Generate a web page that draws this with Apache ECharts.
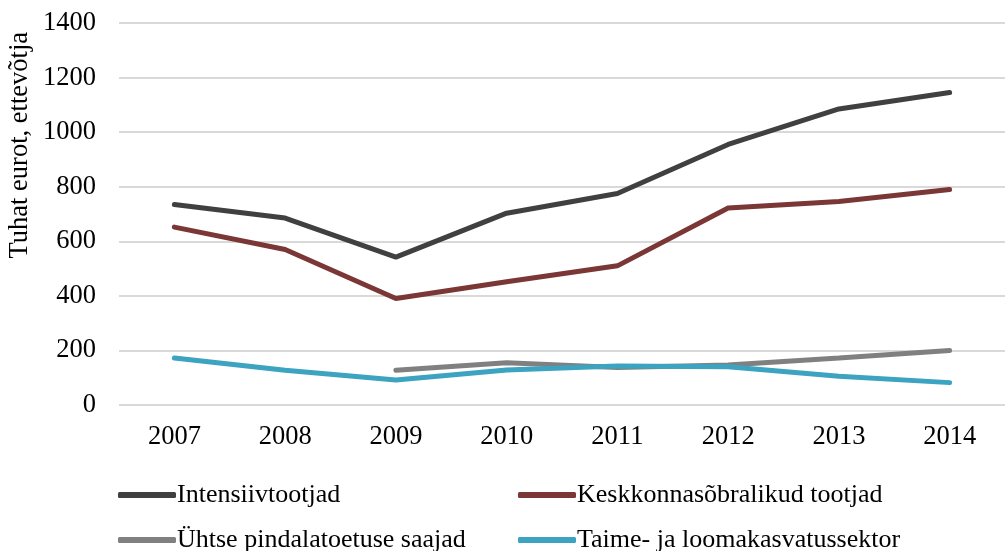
<!DOCTYPE html>
<html><head><meta charset="utf-8">
<script src="https://cdn.jsdelivr.net/npm/echarts@6/dist/echarts.min.js"></script>
<style>html,body{margin:0;padding:0;background:#fff}#c{width:1006px;height:551px}</style>
</head><body><div id="c"></div>
<script>
const years = ['2007','2008','2009','2010','2011','2012','2013','2014'];
const intensiiv = [735, 685, 542, 703, 775, 955, 1085, 1145];
const keskkonna = [652, 570, 390, 452, 510, 722, 746, 790];
const yhtse = [null, null, 127, 155, 137, 147, 172, 200];
const taime = [172, 127, 92, 128, 143, 140, 105, 82];
const seriesNames = ['Intensiivtootjad','Keskkonnasõbralikud tootjad','Ühtse pindalatoetuse saajad','Taime- ja loomakasvatussektor'];
const colors = ['#404040','#7b3636','#808080','#3ca3c0'];
const font = 'Liberation Serif';
const chart = echarts.init(document.getElementById('c'));
const dataArr = [intensiiv, keskkonna, yhtse, taime];
const legendPos = [[113,477],[513,477],[113,522],[513,522]];
chart.setOption({
  animation:false,
  textStyle:{fontFamily:font},
  grid:{left:119,right:1,top:23,bottom:146},
  xAxis:{type:'category',data:years,boundaryGap:true,
    axisLine:{show:false},axisTick:{show:false},
    axisLabel:{color:'#000',fontSize:26.5,fontFamily:font,margin:19}},
  yAxis:{type:'value',min:0,max:1400,interval:200,
    axisLine:{show:false},axisTick:{show:false},
    splitLine:{lineStyle:{color:'#d9d9d9',width:2}},
    axisLabel:{color:'#000',fontSize:26.5,fontFamily:font,margin:23,formatter:v=>String(v)}},
  legend: seriesNames.map((n,i)=>({data:[n],left:legendPos[i][0],top:legendPos[i][1],
    itemWidth:58,itemHeight:6,itemGap:0,icon:'roundRect',
    textStyle:{fontSize:26,fontFamily:font,color:'#000',padding:[0,0,0,-4]}})),
  graphic:[{type:'text',left:7,top:32,rotation:Math.PI/2,
    style:{text:'Tuhat eurot, ettevõtja',fontSize:26.5,fontFamily:font,fill:'#000'},
    originX:0,originY:0}],
  series: seriesNames.map((n,i)=>({name:n,type:'line',data:dataArr[i],
    symbol:'none',lineStyle:{width:5,color:colors[i],cap:'round'},itemStyle:{color:colors[i]},
    connectNulls:false}))
});
</script></body></html>
